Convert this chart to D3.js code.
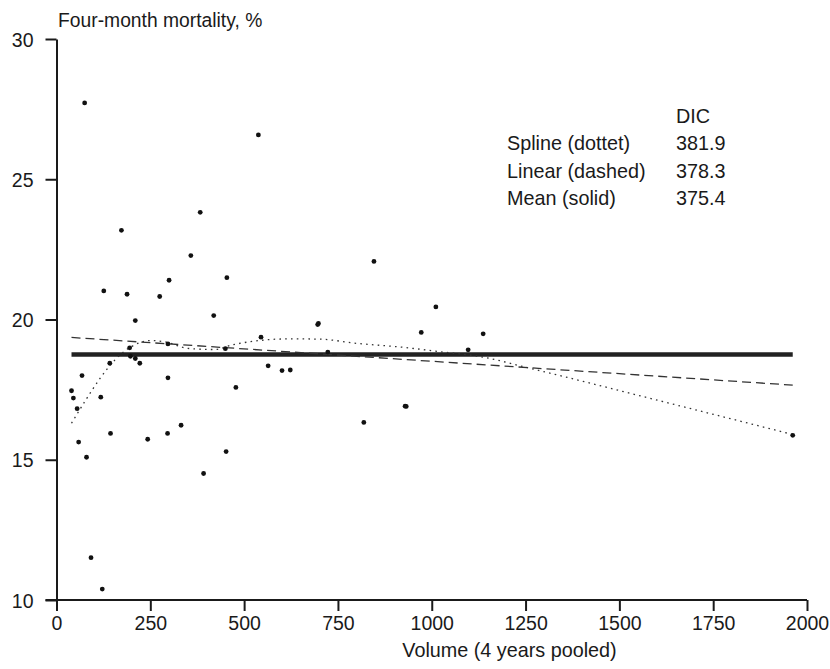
<!DOCTYPE html>
<html>
<head>
<meta charset="utf-8">
<script src="https://cdn.jsdelivr.net/npm/d3@7"></script>
<style>
  html, body { margin: 0; padding: 0; background: #fff; }
  svg { display: block; }
  text { font-family: "Liberation Sans", Arial, Helvetica, sans-serif; fill: #1a1a1a; }
</style>
</head>
<body>
<svg id="chart" width="830" height="669"></svg>
<script>
// ---- Data ----
const volumes = [75, 538, 383, 173, 358, 300, 454, 126, 188, 275, 419, 210,
  195, 197, 210, 222, 142, 68, 40, 45, 55, 118, 297, 478, 332, 144, 296, 243,
  59, 80, 452, 392, 92, 122, 846, 1011, 698, 696, 972, 1137, 545, 723, 1097,
  564, 601, 623, 929, 932, 819, 1962, 297, 450];
const mortality = [27.72, 26.58, 23.82, 23.18, 22.28, 21.40, 21.49, 21.02, 20.90,
  20.82, 20.14, 19.96, 18.99, 18.69, 18.61, 18.44, 18.44, 18.00, 17.46, 17.20,
  16.82, 17.23, 17.92, 17.58, 16.23, 15.94, 15.94, 15.73, 15.63, 15.09, 15.29,
  14.51, 11.51, 10.39, 22.07, 20.45, 19.86, 19.82, 19.54, 19.49, 19.37, 18.84,
  18.92, 18.35, 18.18, 18.20, 16.91, 16.90, 16.33, 15.87, 19.13, 18.96];

const meanX = [40, 1962];
const meanY = [18.75, 18.75];

const linearX = [40, 1962];
const linearY = [19.36, 17.66];

const splineX = [40, 195, 250, 290, 350, 420, 470, 540, 620, 700, 800, 930, 1010, 1137, 1250, 1620, 1962];
const splineY = [16.30, 19.00, 19.25, 19.20, 18.97, 18.93, 19.10, 19.25, 19.31, 19.30, 19.15, 19.00, 18.87, 18.66, 18.30, 17.06, 15.90];

const xTicks = [0, 250, 500, 750, 1000, 1250, 1500, 1750, 2000];
const yTicks = [10, 15, 20, 25, 30];

const legendNames = ["Spline (dottet)", "Linear (dashed)", "Mean (solid)"];
const legendDIC = ["381.9", "378.3", "375.4"];

const yTitle = "Four-month mortality, %";
const xTitle = "Volume (4 years pooled)";

// ---- Layout ----
const svg = d3.select("#chart");
const x = d3.scaleLinear().domain([0, 2000]).range([56.5, 807]);
const y = d3.scaleLinear().domain([10, 30]).range([600, 39]);

// Axes
const xAxis = svg.append("g")
  .attr("transform", `translate(0,${y(10)})`)
  .call(d3.axisBottom(x).tickValues(xTicks).tickFormat(d3.format("d"))
    .tickSize(11).tickPadding(5).tickSizeOuter(0));
const yAxis = svg.append("g")
  .attr("transform", `translate(${x(0)},0)`)
  .call(d3.axisLeft(y).tickValues(yTicks).tickFormat(d3.format("d"))
    .tickSize(11).tickPadding(12).tickSizeOuter(0));

[xAxis, yAxis].forEach(g => {
  g.select(".domain").attr("stroke", "#1a1a1a").attr("stroke-width", 2);
  g.selectAll(".tick line").attr("stroke", "#1a1a1a").attr("stroke-width", 2);
  g.selectAll(".tick text").attr("font-size", 19.5).attr("fill", "#1a1a1a")
    .style("font-family", '"Liberation Sans", Arial, sans-serif');
});
xAxis.select(".domain").attr("d", `M${x(0) - 11},0H${x(2000)}`);
yAxis.selectAll(".tick text").attr("dy", "0.36em");

// Lines
const lineGen = d3.line().x(d => x(d[0])).y(d => y(d[1]));

svg.append("path")
  .datum(meanX.map((v, i) => [v, meanY[i]]))
  .attr("d", lineGen)
  .attr("fill", "none").attr("stroke", "#222").attr("stroke-width", 4.5);

svg.append("path")
  .datum(linearX.map((v, i) => [v, linearY[i]]))
  .attr("d", lineGen)
  .attr("fill", "none").attr("stroke", "#333").attr("stroke-width", 1.3)
  .attr("stroke-dasharray", "9,5");

svg.append("path")
  .datum(splineX.map((v, i) => [v, splineY[i]]))
  .attr("d", lineGen.curve(d3.curveMonotoneX))
  .attr("fill", "none").attr("stroke", "#333").attr("stroke-width", 1.3)
  .attr("stroke-dasharray", "1.6,4.2");

// Points
svg.append("g").selectAll("circle")
  .data(volumes.map((v, i) => [v, mortality[i]]))
  .join("circle")
  .attr("cx", d => x(d[0]))
  .attr("cy", d => y(d[1]))
  .attr("r", 2.4)
  .attr("fill", "#111");

// Titles
svg.append("text").attr("x", 58).attr("y", 27).attr("font-size", 19.3).text(yTitle);
svg.append("text").attr("x", 509.5).attr("y", 657).attr("font-size", 19.8)
  .attr("text-anchor", "middle").text(xTitle);

// Legend (DIC table)
svg.append("text").attr("x", 676).attr("y", 122.7).attr("font-size", 19.8).text("DIC");
legendNames.forEach((name, i) => {
  const by = 150 + i * 27.5;
  svg.append("text").attr("x", 507).attr("y", by).attr("font-size", 19.8).text(name);
  svg.append("text").attr("x", 676).attr("y", by).attr("font-size", 19.8).text(legendDIC[i]);
});
</script>
</body>
</html>
